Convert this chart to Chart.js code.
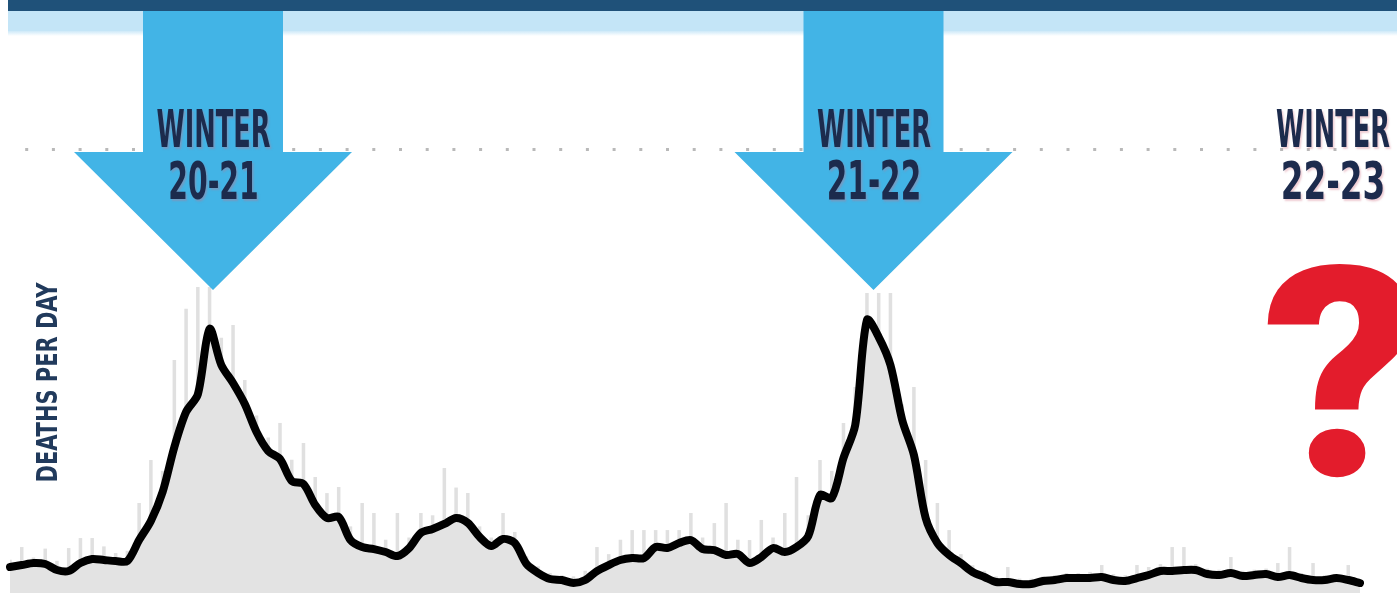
<!DOCTYPE html>
<html>
<head>
<meta charset="utf-8">
<script src="https://cdn.jsdelivr.net/npm/chart.js@4.4.0/dist/chart.umd.min.js"></script>
<style>
  html, body { margin: 0; padding: 0; background: #fff; }
  #wrap { position: relative; width: 1397px; height: 593px; }
</style>
</head>
<body>
<div id="wrap"><canvas id="canvas"></canvas></div>
<script>
// weekly samples, starting mid-September 2020
const startWeek = "2020-09-13";

// smoothed (7-day average) deaths per day
const avgDeaths = [
  234, 252, 270, 261, 207, 198, 270, 306, 297, 288,
  288, 477, 649, 910, 1315, 1631, 1790, 2379, 2054, 1892,
  1703, 1451, 1279, 1207, 1009, 982, 793, 676, 685, 478,
  414, 396, 369, 333, 405, 541, 577, 622, 676, 631,
  505, 423, 487, 450, 261, 180, 126, 117, 90, 117,
  198, 252, 297, 315, 315, 414, 405, 450, 477, 396,
  387, 342, 351, 270, 324, 405, 369, 414, 513, 883,
  856, 1216, 1513, 2460, 2306, 2054, 1559, 1243, 676, 450,
  342, 270, 189, 144, 99, 99, 81, 81, 108, 117,
  135, 135, 135, 144, 117, 108, 135, 162, 198, 198,
  207, 207, 171, 162, 180, 153, 162, 171, 144, 162,
  135, 117, 117, 135, 117, 90
];

// highest single day in each week (the light grey spikes)
const dailyDeaths = [
  300, 414, 320, 400, 290, 405, 495, 495, 420, 360,
  380, 811, 1198, 1100, 2100, 2560, 2757, 2757, 2300, 2414,
  1919, 1600, 1400, 1532, 1200, 1351, 1045, 900, 955, 600,
  811, 721, 480, 721, 500, 721, 700, 1126, 950, 901,
  600, 500, 721, 550, 330, 240, 180, 160, 150, 200,
  414, 350, 480, 567, 567, 567, 567, 567, 721, 500,
  630, 811, 480, 477, 658, 500, 721, 1045, 700, 1198,
  1100, 1532, 1856, 2703, 2703, 2703, 1700, 1856, 1198, 811,
  567, 350, 250, 200, 150, 234, 130, 130, 150, 160,
  180, 180, 190, 252, 170, 160, 252, 234, 260, 414,
  414, 260, 220, 210, 324, 200, 210, 220, 270, 414,
  180, 270, 160, 170, 252, 120
];

const winterWord = "WINTER";
const winterSeasons = ["20-21", "21-22", "22-23"];
const axisLabel = "DEATHS PER DAY";
const unknownMark = "?";

const weeks = [];
const d0 = new Date(startWeek + "T00:00:00Z");
for (let i = 0; i < avgDeaths.length; i++) {
  const d = new Date(d0.getTime() + i * 7 * 86400000);
  weeks.push(d.toISOString().slice(0, 10));
}

const NAVY = "#1c2b4d";
const condensed = '"Liberation Sans Narrow", "DejaVu Sans Condensed", "Arial Narrow", sans-serif';

// draw text squeezed to a given cap height and width, centred on cx
const fitText = (c, text, cx, baseY, width, capH) => {
  c.font = "bold 100px " + condensed;
  const m = c.measureText(text);
  const size = 100 * capH / m.actualBoundingBoxAscent;
  c.font = "bold " + size.toFixed(1) + "px " + condensed;
  const m2 = c.measureText(text);
  const w = m2.actualBoundingBoxLeft + m2.actualBoundingBoxRight;
  c.save();
  c.translate(cx, baseY);
  c.scale(width / w, 1);
  c.textAlign = "center";
  c.textBaseline = "alphabetic";
  c.fillText(text, 0, 0);
  c.restore();
};

const drawArrow = (c, cx) => {
  c.beginPath();
  c.moveTo(cx - 70, 11);
  c.lineTo(cx + 70, 11);
  c.lineTo(cx + 70, 152);
  c.lineTo(cx + 139, 152);
  c.lineTo(cx, 290);
  c.lineTo(cx - 139, 152);
  c.lineTo(cx - 70, 152);
  c.closePath();
  c.fill();
};

const decor = {
  id: "decor",
  beforeDraw(chart) {
    const c = chart.ctx;
    c.save();
    c.fillStyle = "#fff";
    c.fillRect(0, 0, chart.width, chart.height);
    const g = c.createLinearGradient(0, 30, 0, 36);
    g.addColorStop(0, "#c4e5f7");
    g.addColorStop(1, "rgba(196,229,247,0)");
    c.fillStyle = "#c4e5f7";
    c.fillRect(8, 10, chart.width - 8, 21);
    c.fillStyle = g;
    c.fillRect(8, 30, chart.width - 8, 6);
    c.fillStyle = "#1f5179";
    c.fillRect(8, 0, chart.width - 8, 11);
    c.restore();
  },
  afterDatasetsDraw(chart) {
    const c = chart.ctx;
    c.save();
    c.fillStyle = "#42b4e6";
    drawArrow(c, 213);
    drawArrow(c, 873.5);

    // winter labels
    c.fillStyle = NAVY;
    c.shadowColor = "rgba(205,110,130,0.35)";
    c.shadowBlur = 2;
    c.shadowOffsetX = 1.5;
    c.shadowOffsetY = 1.5;
    const centres = [213.5, 874, 1333];
    const seasonW = [87, 90, 100];
    centres.forEach((cx, i) => {
      fitText(c, winterWord, cx, 147, 113, 38);
      fitText(c, winterSeasons[i], cx, 199, seasonW[i], 39);
    });
    c.shadowColor = "rgba(0,0,0,0)";

    // rotated axis label
    c.fillStyle = "#213a5c";
    c.save();
    c.translate(57, 382.5);
    c.rotate(-Math.PI / 2);
    fitText(c, axisLabel, 0, 0, 199, 21);
    c.restore();

    // big red question mark
    c.fillStyle = "#e31c2c";
    c.font = '900 300px Roboto, "DejaVu Sans", sans-serif';
    c.textAlign = "left";
    c.textBaseline = "alphabetic";
    const m = c.measureText(unknownMark);
    const gw = m.actualBoundingBoxLeft + m.actualBoundingBoxRight;
    const gh = m.actualBoundingBoxAscent + m.actualBoundingBoxDescent;
    c.translate(1263, 260);
    c.scale(150 / gw, 220 / gh);
    c.fillText(unknownMark, m.actualBoundingBoxLeft, m.actualBoundingBoxAscent);
    c.restore();
  }
};

const ctx = document.getElementById("canvas").getContext("2d");
const plot = new Chart(ctx, {
  type: "bar",
  data: {
    labels: weeks,
    datasets: [
      {
        type: "line",
        label: "7-day average",
        data: avgDeaths,
        borderColor: "#000",
        borderWidth: 8,
        borderJoinStyle: "round",
        borderCapStyle: "round",
        pointRadius: 0,
        tension: 0.3,
        fill: "origin",
        backgroundColor: "#e3e3e3",
        order: 1
      },
      {
        type: "bar",
        label: "Daily deaths",
        data: dailyDeaths,
        backgroundColor: "#e0e0e0",
        barPercentage: 0.3,
        categoryPercentage: 1,
        order: 2
      }
    ]
  },
  options: {
    responsive: true,
    maintainAspectRatio: false,
    animation: false,
    layout: { padding: { left: 10, right: 37, top: 149, bottom: 0 } },
    plugins: {
      legend: { display: false },
      tooltip: { enabled: false }
    },
    scales: {
      x: { display: false, offset: false },
      y: {
        min: 0,
        max: 4000,
        ticks: { display: false, stepSize: 4000 },
        grid: {
          drawTicks: false,
          lineWidth: 3,
          color: (c) => (c.tick && c.tick.value === 4000 ? "#b9b9b9" : "rgba(0,0,0,0)")
        },
        border: { display: false, dash: [3, 23.7], dashOffset: 11.5 }
      }
    }
  },
  plugins: [decor]
});
</script>
</body>
</html>
